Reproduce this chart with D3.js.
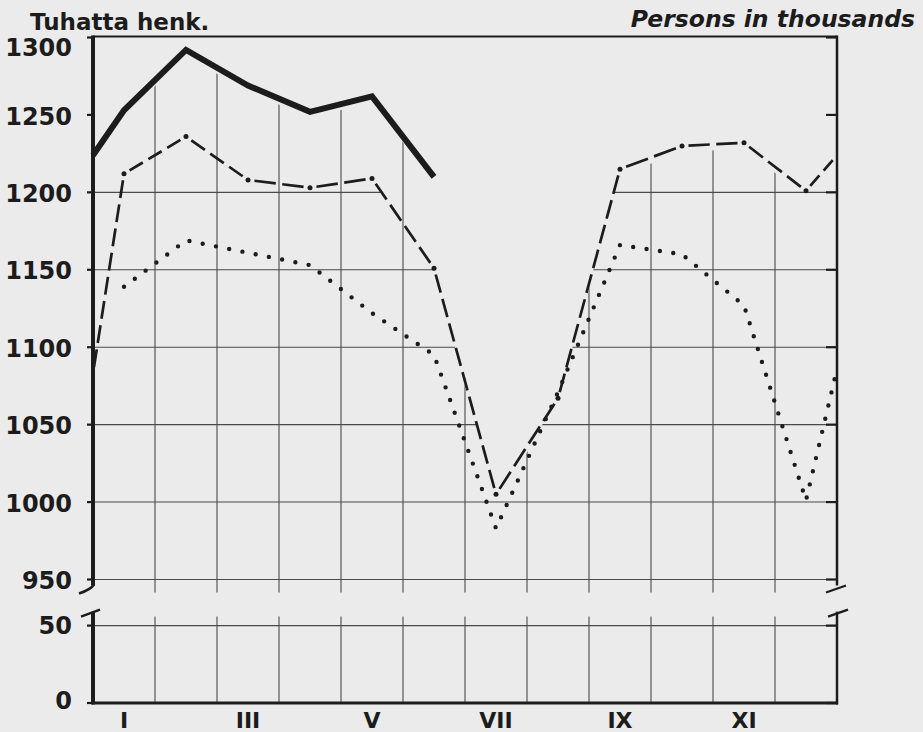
<!DOCTYPE html>
<html>
<head>
<meta charset="utf-8">
<script src="https://cdn.jsdelivr.net/npm/d3@7"></script>
<style>
  body { margin: 0; background: #ebebeb; }
  svg { display: block; }
  text { font-family: "DejaVu Sans", sans-serif; font-weight: bold; fill: #1c1c1c; }
</style>
</head>
<body>
<div id="chart"></div>
<script>
// months and labels
var months = ["I", "II", "III", "IV", "V", "VI", "VII", "VIII", "IX", "X", "XI", "XII"];
var monthLabels = ["I", "III", "V", "VII", "IX", "XI"];
var upperTicks = [950, 1000, 1050, 1100, 1150, 1200, 1250, 1300];
var lowerTicks = [0, 50];

// values in thousands
// "start" = value at the left edge, "end" = value at the right edge
var solidStart = 1224;
var solidValues = [1253, 1292, 1269, 1252, 1262, 1210];   // I - VI only
var dashStart = 1083;
var dashValues = [1212, 1236, 1208, 1203, 1209, 1151, 1005, 1067, 1215, 1230, 1232, 1201];
var dashEnd = 1224;
var dotValues = [1139, 1169, 1161, 1153, 1122, 1095, 983, 1071, 1166, 1160, 1127, 1001];
var dotEnd = 1086;

var width = 923, height = 732;
var ink = "#1c1c1c";
var gridCol = "#4a4a4a";

var x = d3.scaleBand().domain(months).range([93, 837]);
var y = d3.scaleLinear().domain([950, 1300]).range([579.5, 37.5]);
var yLow = d3.scaleLinear().domain([0, 50]).range([703, 625.6]);
var xL = x.range()[0], xR = x.range()[1];
function cx(m) { return x(m) + x.bandwidth() / 2; }

var breakTop = y(950) + 6;     // upper panel ends
var breakBot = yLow(50) - 14;  // lower panel starts
var gridBottom = y(950) + 13;

var svg = d3.select("#chart").append("svg")
  .attr("width", width)
  .attr("height", height);

svg.append("rect").attr("width", width).attr("height", height).attr("fill", "#ebebeb");

// point lists
var solidPts = [[xL, y(solidStart)]].concat(solidValues.map(function(v, i) { return [cx(months[i]), y(v)]; }));
var dashPts = [[xL, y(dashStart)]]
  .concat(dashValues.map(function(v, i) { return [cx(months[i]), y(v)]; }))
  .concat([[xR, y(dashEnd)]]);
var dotPts = dotValues.map(function(v, i) { return [cx(months[i]), y(v)]; })
  .concat([[xR, y(dotEnd)]]);

// clip paths: grid only drawn under the curves, like the hand drafted original
var defs = svg.append("defs");
var under = function(off) {
  return d3.area().x(function(d) { return d[0]; }).y0(gridBottom + 5).y1(function(d) { return d[1] + off; });
};
var vclip = defs.append("clipPath").attr("id", "vclip");
[solidPts, dashPts, dotPts].forEach(function(p) {
  vclip.append("path").attr("d", under(6)(p));
});
var hPts = [[xL, y(dashValues[0])]].concat(dashPts.slice(1));
defs.append("clipPath").attr("id", "hclip")
  .append("path").attr("d", under(2)(hPts));

// horizontal grid
svg.append("g")
  .attr("clip-path", "url(#hclip)")
  .selectAll("line")
  .data(upperTicks.filter(function(d) { return d > 950 && d < 1300; }))
  .enter().append("line")
  .attr("x1", xL).attr("x2", xR)
  .attr("y1", function(d) { return y(d); }).attr("y2", function(d) { return y(d); })
  .attr("stroke", gridCol).attr("stroke-width", 1.1);

svg.append("line")
  .attr("x1", xL).attr("x2", xR).attr("y1", y(950)).attr("y2", y(950))
  .attr("stroke", gridCol).attr("stroke-width", 1.1);
svg.append("line")
  .attr("x1", xL).attr("x2", xR).attr("y1", yLow(50)).attr("y2", yLow(50))
  .attr("stroke", gridCol).attr("stroke-width", 1.1);

// vertical grid
var inner = months.slice(1);
svg.append("g")
  .attr("clip-path", "url(#vclip)")
  .selectAll("line")
  .data(inner)
  .enter().append("line")
  .attr("x1", function(d) { return x(d); }).attr("x2", function(d) { return x(d); })
  .attr("y1", gridBottom).attr("y2", y(1300))
  .attr("stroke", gridCol).attr("stroke-width", 1.1);

svg.append("g")
  .selectAll("line")
  .data(inner)
  .enter().append("line")
  .attr("x1", function(d) { return x(d); }).attr("x2", function(d) { return x(d); })
  .attr("y1", breakBot + 5).attr("y2", yLow(0))
  .attr("stroke", gridCol).attr("stroke-width", 1.1);

// frame
var frame = svg.append("g").attr("stroke", ink).attr("fill", "none");
frame.append("line").attr("x1", xL).attr("x2", xR).attr("y1", y(1300) - 1).attr("y2", y(1300) - 1).attr("stroke-width", 2);
frame.append("line").attr("x1", xL - 1).attr("x2", xR + 1).attr("y1", yLow(0)).attr("y2", yLow(0)).attr("stroke-width", 3);
frame.append("line").attr("x1", xL).attr("x2", xL).attr("y1", y(1300) - 2).attr("y2", breakTop).attr("stroke-width", 4);
frame.append("line").attr("x1", xL).attr("x2", xL).attr("y1", breakBot).attr("y2", yLow(0) + 1.5).attr("stroke-width", 4);
frame.append("line").attr("x1", xR).attr("x2", xR).attr("y1", y(1300) - 2).attr("y2", breakTop).attr("stroke-width", 2.5);
frame.append("line").attr("x1", xR).attr("x2", xR).attr("y1", breakBot).attr("y2", yLow(0) + 1.5).attr("stroke-width", 2.5);

// break marks
frame.append("path").attr("d", "M" + (xL + 1) + "," + (breakTop - 1) + " Q" + (xL - 2) + "," + (breakTop + 4) + " " + (xL - 14) + "," + (breakTop + 8)).attr("stroke-width", 2.5);
frame.append("path").attr("d", "M" + (xL - 12) + "," + (breakBot + 5) + " L" + (xL + 7) + "," + (breakBot - 2)).attr("stroke-width", 2.5);
frame.append("path").attr("d", "M" + (xR - 11) + "," + (breakTop + 7) + " L" + (xR + 9) + "," + (breakTop)).attr("stroke-width", 2.2);
frame.append("path").attr("d", "M" + (xR - 9) + "," + (breakBot + 5) + " L" + (xR + 11) + "," + (breakBot - 2)).attr("stroke-width", 2.2);

// ticks
var ticks = svg.append("g").attr("stroke", ink).attr("stroke-width", 2.2);
upperTicks.forEach(function(t) {
  ticks.append("line").attr("x1", xL - 6).attr("x2", xL).attr("y1", y(t)).attr("y2", y(t));
  ticks.append("line").attr("x1", xR - 11).attr("x2", xR).attr("y1", y(t)).attr("y2", y(t));
});
lowerTicks.forEach(function(t) {
  ticks.append("line").attr("x1", xL - 6).attr("x2", xL).attr("y1", yLow(t)).attr("y2", yLow(t));
  ticks.append("line").attr("x1", xR - 11).attr("x2", xR).attr("y1", yLow(t)).attr("y2", yLow(t));
});

// y labels
svg.append("g").selectAll("text")
  .data(upperTicks)
  .enter().append("text")
  .attr("x", 72)
  .attr("y", function(d) { return y(d) + (d === 1300 ? 10 : 1); })
  .attr("dy", "0.36em")
  .attr("text-anchor", "end")
  .style("font-size", "24px")
  .text(function(d) { return d; });

svg.append("g").selectAll("text")
  .data(lowerTicks)
  .enter().append("text")
  .attr("x", 72)
  .attr("y", function(d) { return yLow(d) - (d === 0 ? 3 : 0); })
  .attr("dy", "0.36em")
  .attr("text-anchor", "end")
  .style("font-size", "24px")
  .text(function(d) { return d; });

// month labels
svg.append("g").selectAll("text")
  .data(monthLabels)
  .enter().append("text")
  .attr("x", function(d) { return cx(d); })
  .attr("y", 728)
  .attr("text-anchor", "middle")
  .style("font-size", "22px")
  .text(function(d) { return d; });

// titles
svg.append("text")
  .attr("x", 30).attr("y", 30)
  .style("font-size", "23px")
  .text("Tuhatta henk.");
svg.append("text")
  .attr("x", 915).attr("y", 27)
  .attr("text-anchor", "end")
  .style("font-size", "23.5px")
  .style("font-style", "italic")
  .text("Persons in thousands");

var line = d3.line();

// solid line
svg.append("path")
  .attr("d", line(solidPts))
  .attr("fill", "none")
  .attr("stroke", ink)
  .attr("stroke-width", 6)
  .attr("stroke-linejoin", "miter");

// dash-dot line: dashes between points, a dot at each month point
var gap = 6.5, dashLen = 19;
var dashG = svg.append("g").attr("stroke", ink).attr("fill", "none").attr("stroke-width", 2.7);
for (var i = 0; i < dashPts.length - 1; i++) {
  var a = dashPts[i], b = dashPts[i + 1];
  var L = Math.hypot(b[0] - a[0], b[1] - a[1]);
  var n = Math.max(1, Math.round((L - gap) / (dashLen + gap)));
  var d = (L - gap * (n + 1)) / n;
  dashG.append("path")
    .attr("d", line([a, b]))
    .attr("stroke-dasharray", d + "," + gap)
    .attr("stroke-dashoffset", d);
}
svg.append("g").selectAll("circle")
  .data(dashValues)
  .enter().append("circle")
  .attr("cx", function(d, i) { return cx(months[i]); })
  .attr("cy", function(d) { return y(d); })
  .attr("r", 2.5)
  .attr("fill", ink);

// dotted line
svg.append("path")
  .attr("d", line(dotPts))
  .attr("fill", "none")
  .attr("stroke", ink)
  .attr("stroke-width", 4.4)
  .attr("stroke-linecap", "round")
  .attr("stroke-dasharray", "0,13.5");
</script>
</body>
</html>
